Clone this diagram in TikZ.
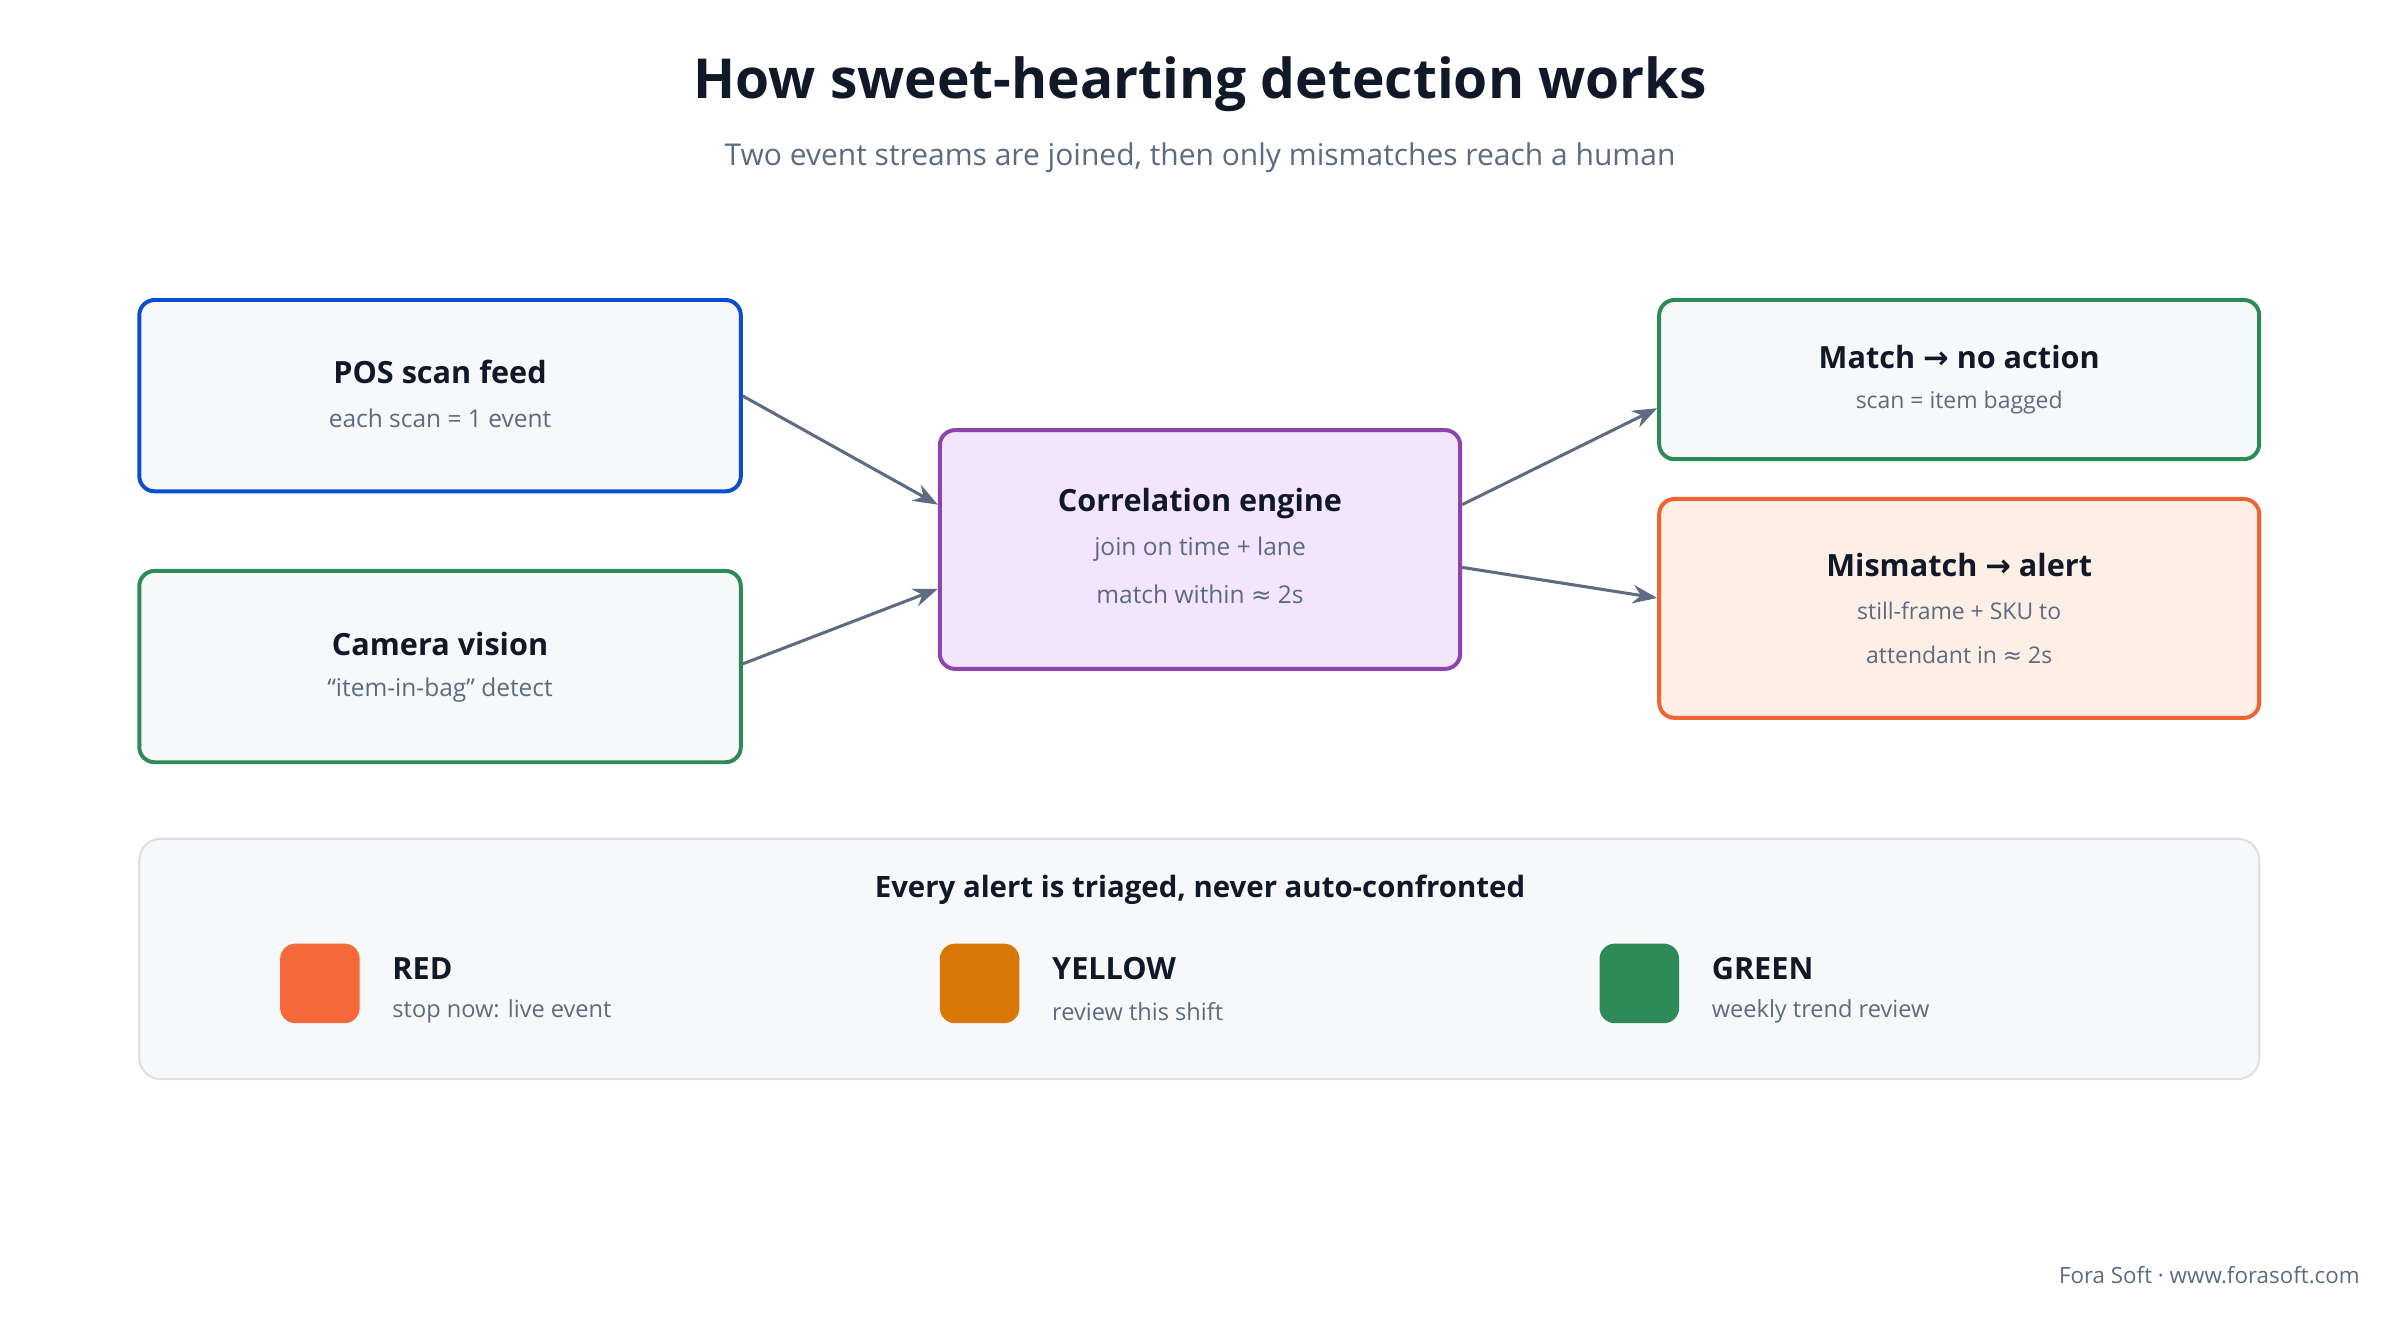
\documentclass[tikz,border=0pt]{standalone}
\usepackage{fontspec}
\setmainfont{Open Sans}
\newfontfamily\symf{DejaVu Sans}
\newcommand{\ar}{{\symf →}}
\newcommand{\ap}{{\symf ≈}}
\usetikzlibrary{arrows.meta,calc}
\definecolor{ink}{HTML}{111827}
\definecolor{sub}{HTML}{5B6B82}
\definecolor{arr}{HTML}{5F6B80}
\definecolor{bluE}{HTML}{0B4FD0}
\definecolor{grn}{HTML}{2E8B57}
\definecolor{pur}{HTML}{8E44AD}
\definecolor{purf}{HTML}{F3E5FB}
\definecolor{orn}{HTML}{F06432}
\definecolor{ornf}{HTML}{FDEEE6}
\definecolor{boxf}{HTML}{F7F8FA}
\definecolor{pan}{HTML}{DDE1E6}
\definecolor{red2}{HTML}{F4683A}
\definecolor{yel}{HTML}{D97706}
\begin{document}
\begin{tikzpicture}[x=0.5pt,y=-0.5pt,
 box/.style={draw,line width=1.3pt,rounded corners=5pt,fill=boxf,inner sep=0},
 ttl/.style={font=\fontsize{10}{12}\selectfont\bfseries,text=ink},
 st/.style={font=\fontsize{8}{10}\selectfont,text=sub},
 arw/.style={draw=arr,line width=1pt,-{Stealth[length=8pt,width=6pt]}}]
\useasboundingbox (0,0) rectangle (1568,862);
\node[font=\fontsize{18}{22}\selectfont\bfseries,text=ink] (title) at (784,55) {How sweet-hearting detection works};
\node[font=\fontsize{9.8}{12}\selectfont,text=sub] (subt) at (784,103) {Two event streams are joined, then only mismatches reach a human};
% boxes
\node[box,draw=bluE,minimum width=196.5pt,minimum height=62.5pt] (pos) at (287.5,258.5) {};
\node[ttl] (posT) at (287.5,243) {POS scan feed};
\node[st] (posS) at (287.5,273) {each scan = 1 event};
\node[box,draw=grn,minimum width=196.5pt,minimum height=62.5pt] (cam) at (287.5,435.5) {};
\node[ttl] (camT) at (287.5,421) {Camera vision};
\node[st] (camS) at (287.5,451) {“item-in-bag” detect};
\node[box,draw=pur,fill=purf,minimum width=170pt,minimum height=78pt] (cor) at (784,359) {};
\node[ttl] (corT) at (784,329) {Correlation engine};
\node[st] (corS1) at (784,359) {join on time + lane};
\node[st] (corS2) at (784,388) {match within \ap{} 2s};
\node[box,draw=grn,minimum width=196pt,minimum height=52pt] (mat) at (1280,248) {};
\node[ttl] (matT) at (1280,233) {Match \ar{} no action};
\node[st,font=\fontsize{7.5}{10}\selectfont] (matS) at (1280,263) {scan = item bagged};
\node[box,draw=orn,fill=ornf,minimum width=196pt,minimum height=71.5pt] (mis) at (1280,397.5) {};
\node[ttl] (misT) at (1280,369) {Mismatch \ar{} alert};
\node[st,font=\fontsize{7.5}{10}\selectfont] (misS1) at (1280,399) {still-frame + SKU to};
\node[st,font=\fontsize{7.5}{10}\selectfont] (misS2) at (1280,428) {attendant in \ap{} 2s};
% arrows
\draw[arw] ($(pos.north east)+(0,64)$) -- ($(cor.north west)+(0,50)$);
\draw[arw] ($(cam.north east)+(0,62)$) -- ($(cor.north west)+(0,105)$);
\draw[arw] ($(cor.north east)+(0,50)$) -- ($(mat.north west)+(0,72)$);
\draw[arw] ($(cor.north east)+(0,91)$) -- ($(mis.north west)+(0,66)$);
% panel
\node[draw=pan,line width=0.7pt,rounded corners=7pt,fill=boxf,minimum width=692.5pt,minimum height=78.5pt,inner sep=0] (panel) at (783.5,626.5) {};
\node[ttl,font=\fontsize{9.6}{12}\selectfont\bfseries] (panT) at (784,581) {Every alert is triaged, never auto-confronted};
\foreach \n/\x/\c/\a/\b in {r/183/red2/RED/stop now: live event, y/614/yel/YELLOW/review this shift, g/1045/grn/GREEN/weekly trend review}{
 \node[fill=\c,rounded corners=5pt,minimum size=26pt,inner sep=0] (sq\n) at (\x+26,642.5) {};
 \node[ttl,anchor=west,inner sep=0] (l\n) at (\x+73,633) {\a};
 \node[st,anchor=west,inner sep=0,font=\fontsize{7.7}{10}\selectfont] (s\n) at (\x+73,661) {\b};
}
\node[st,anchor=east,inner sep=0,font=\fontsize{7.3}{9}\selectfont] (foot) at (1542,833) {Fora Soft · www.forasoft.com};
\end{tikzpicture}
\end{document}
